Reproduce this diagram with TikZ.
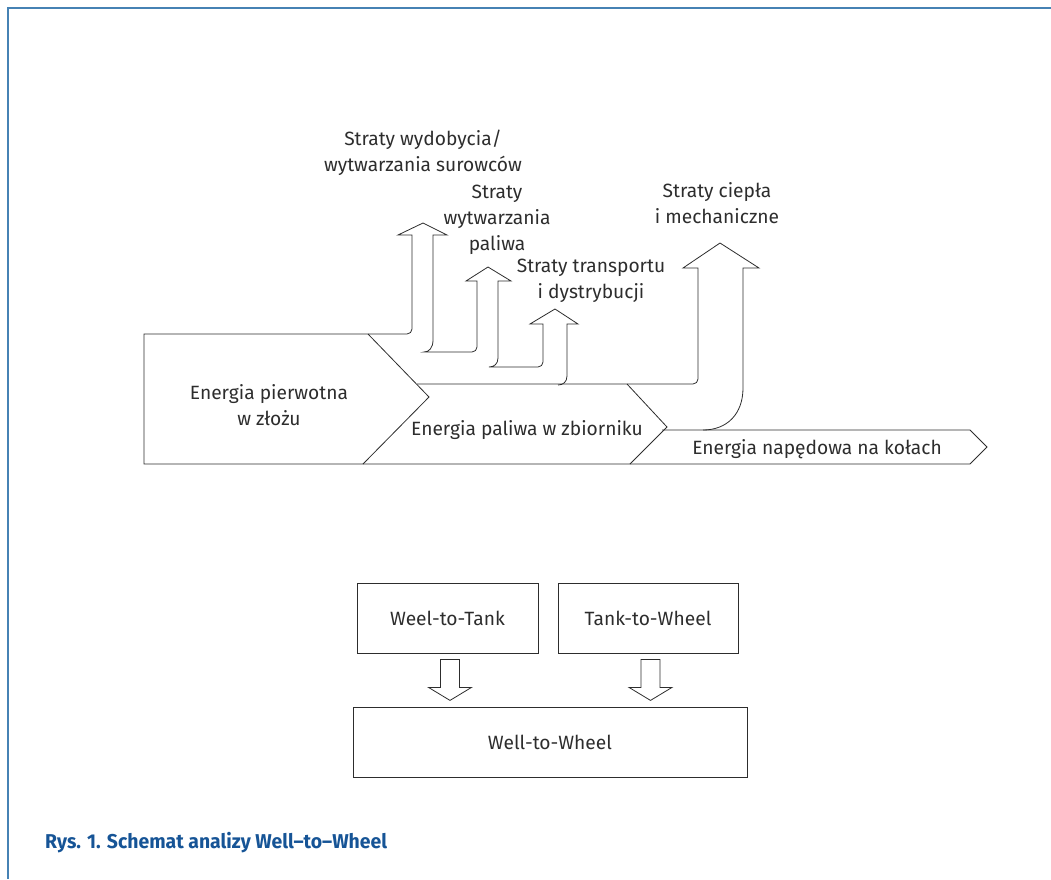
\documentclass[tikz,border=0pt]{standalone}
\usepackage{fontspec}
\setmainfont{Fira Sans}
\newfontfamily\capfont{Fira Sans}[FakeStretch=0.97]
\usetikzlibrary{positioning}
\definecolor{frameblue}{RGB}{70,130,180}
\definecolor{capblue}{RGB}{22,84,150}
\definecolor{ink}{RGB}{45,45,45}
\tikzset{
    flow/.style={draw=ink, line width=0.8pt, line join=miter},
    lbl/.style={text=ink, font=\fontsize{19.2}{26}\selectfont, align=center, inner sep=0pt},
    box/.style={draw=ink, line width=0.8pt, minimum height=70pt, text=ink, font=\fontsize{19.2}{26}\selectfont},
    hollow/.style={draw=ink, line width=0.8pt}
}

\begin{document}
\begin{tikzpicture}[x=1pt, y=-1pt]
    \useasboundingbox (0,0) rectangle (1051,879);
    \draw[frameblue, line width=2pt] (1051,8) -- (8,8) -- (8,879);

    % Energy chain with the losses going up
    \draw[flow] (970,464) -- (144,464) -- (144,334)
        [rounded corners=5pt] -- (412,334) -- (412,300) [sharp corners] -- (412,235)
        -- (398,235) -- (423,223) -- (447,235) -- (433,235)
        -- (433,340) .. controls (433,348) and (429,352) .. (424,352)
        [rounded corners=5pt] -- (477,352) -- (477,320) [sharp corners] -- (477,281)
        -- (466,281) -- (488,267) -- (511,281) -- (498,281)
        -- (498,358) .. controls (498,364) and (494,367) .. (489,367)
        [rounded corners=5pt] -- (543,367) -- (543,345) [sharp corners] -- (543,324)
        -- (530,324) -- (555,309) -- (578,324) -- (567,324)
        -- (567,376) .. controls (567,382) and (563,385) .. (558,385);
    \draw[flow] (368,334) -- (429,397) -- (363,464);
    \draw[flow] (417,384) [rounded corners=5pt] -- (698,384) -- (698,340) [sharp corners] -- (698,268)
        -- (683,268) -- (720,243) -- (759,268) -- (743,268)
        -- (743,388) .. controls (743,414) and (727,430) .. (703,430);
    \draw[flow] (627,384) -- (667,427) -- (630,464);
    \draw[flow] (662,430) -- (970,430) -- (987,447) -- (970,464);

    \node[lbl] (primary) at (269,405) {Energia pierwotna\\w złożu};
    \node[lbl] (tank) at (527,430) {Energia paliwa w zbiorniku};
    \node[lbl] (wheels) at (817,449) {Energia napędowa na kołach};
    \node[lbl] (loss1) at (423,153) {Straty wydobycia/\\wytwarzania surowców};
    \node[lbl] (loss2) at (497,220) {Straty\\wytwarzania\\paliwa};
    \node[lbl] (loss3) at (591,281) {Straty transportu\\i dystrybucji};
    \node[lbl] (loss4) at (717,203) {Straty ciepła\\i mechaniczne};

    % Analysis parts
    \node[box, minimum width=181pt] (wtt) at (447.5,618) {Weel-to-Tank};
    \node[box, minimum width=180pt] (ttw) at (648,618) {Tank-to-Wheel};
    \node[box, minimum width=394pt] (wtw) at (550,742) {Well-to-Wheel};
    \foreach \b in {wtt,ttw}
        \draw[hollow] (\b.south) ++(-7,6) -- ++(0,28) -- ++(-12,0) -- ++(21.5,13)
            -- ++(21.5,-13) -- ++(-12,0) -- ++(0,-28) -- cycle;

    \node[anchor=west, inner sep=0pt, text=capblue, font=\capfont\bfseries\fontsize{20}{22}\selectfont]
        (caption) at (45,843) {Rys. 1. Schemat analizy Well–to–Wheel};
\end{tikzpicture}
\end{document}
